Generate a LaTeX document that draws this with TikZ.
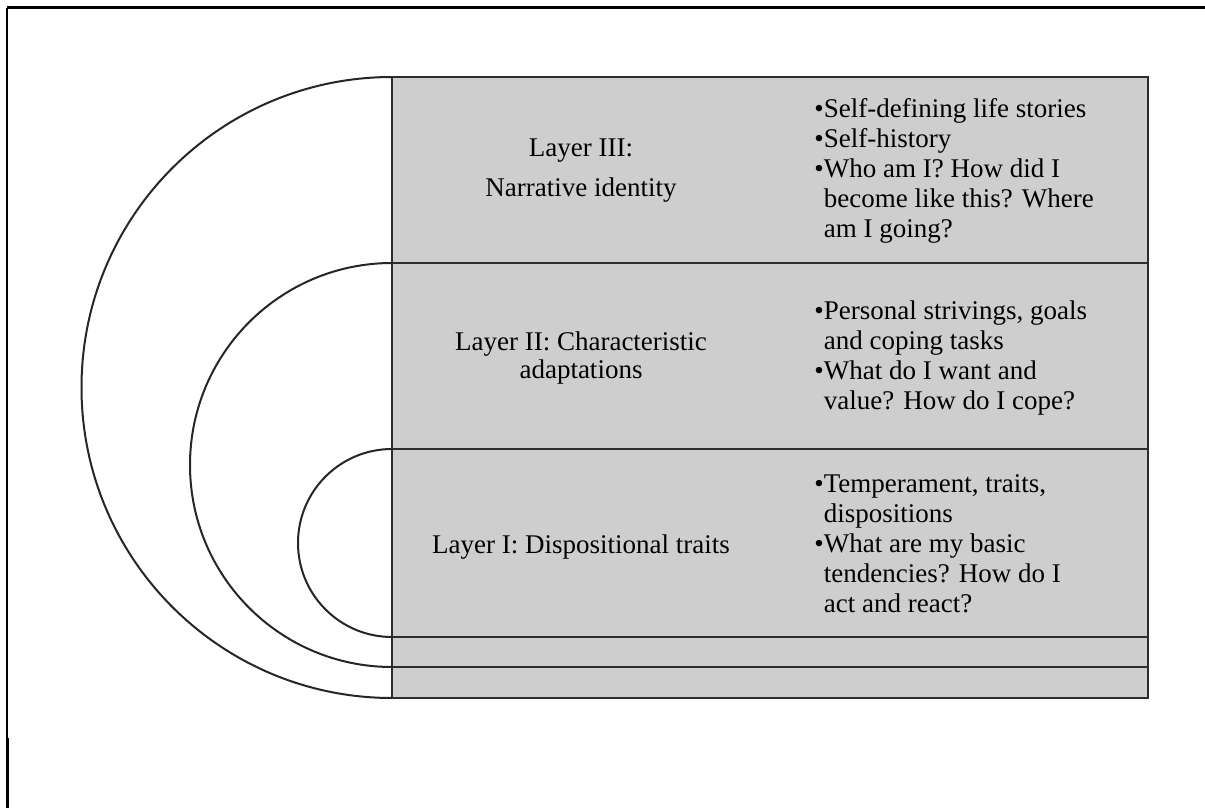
\documentclass[tikz,border=0pt]{standalone}
\usepackage{fontspec}
\setmainfont{Liberation Serif}
\usetikzlibrary{positioning}
\definecolor{layerfill}{RGB}{206,206,206}
\definecolor{layerline}{RGB}{45,45,45}

\begin{document}
\begin{tikzpicture}[x=0.5pt,y=-0.5pt,
  layertext/.style={align=center,inner sep=0pt,font=\fontsize{13.5}{14}\selectfont},
  itemtext/.style={align=left,anchor=north west,inner sep=0pt,font=\fontsize{13.5}{15}\selectfont},
  shell/.style={line width=1pt,draw=black!85}]
  \useasboundingbox (0,0) rectangle (1205,808);

  % frame
  \draw[line width=1.5pt] (7,8) -- (1205,8);
  \draw[line width=0.8pt] (7,8) -- (7,808);
  \draw[line width=1.3pt] (8,738) -- (8,808);

  % layer rows
  \coordinate (top) at (392,77);
  \coordinate (bot) at (1148,698);
  \filldraw[fill=layerfill,draw=layerline,line width=1pt] (top) rectangle (bot);
  \foreach \y in {263,449,637,667}
    \draw[layerline,line width=1pt] (392,\y) -- (1148,\y);

  % shells
  \draw[shell] (392,77) arc[start angle=-90,end angle=-270,radius=310.5];
  \draw[shell] (392,263) arc[start angle=-90,end angle=-270,radius=202];
  \draw[shell] (392,449) arc[start angle=-90,end angle=-270,radius=94];

  % layer names
  \node[layertext] (l3) at (581,171) {Layer III:\\[6pt]Narrative identity};
  \node[layertext] (l2) at (581,358) {Layer II: Characteristic\\adaptations};
  \node[layertext] (l1) at (581,547) {Layer I: Dispositional traits};

  % layer contents
  \node[itemtext] (c3) at (814,98) {\textbullet Self-defining life stories\\\textbullet Self-history\\\textbullet Who am I? How did I\\\phantom{\textbullet}become like this? Where\\\phantom{\textbullet}am I going?};
  \node[itemtext] (c2) at (814,300) {\textbullet Personal strivings, goals\\\phantom{\textbullet}and coping tasks\\\textbullet What do I want and\\\phantom{\textbullet}value? How do I cope?};
  \node[itemtext] (c1) at (814,474) {\textbullet Temperament, traits,\\\phantom{\textbullet}dispositions\\\textbullet What are my basic\\\phantom{\textbullet}tendencies? How do I\\\phantom{\textbullet}act and react?};
\end{tikzpicture}
\end{document}
